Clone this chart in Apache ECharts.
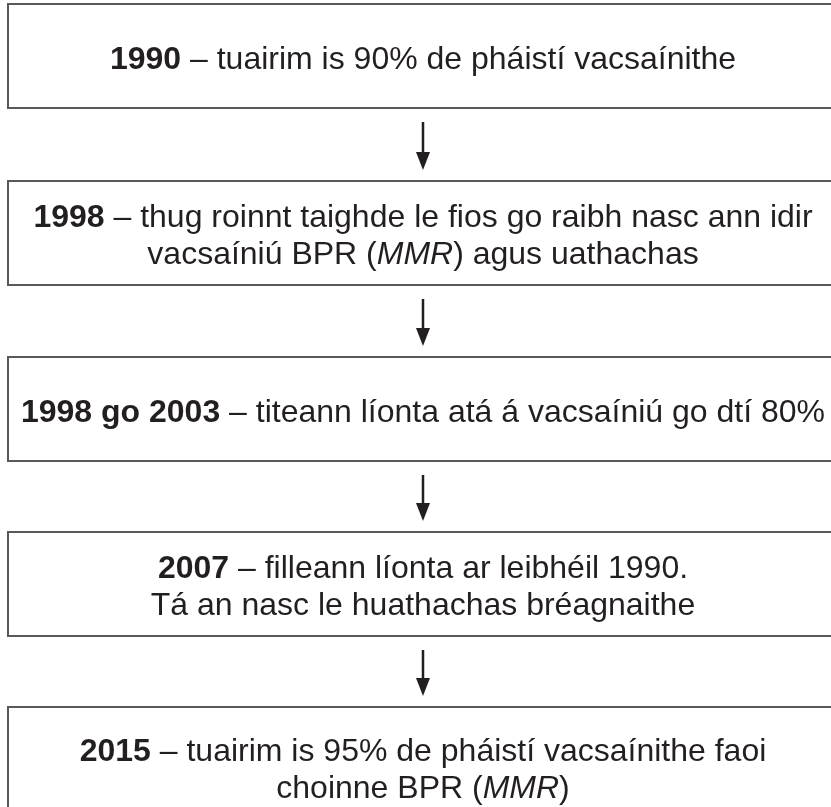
<!DOCTYPE html>
<html>
<head>
<meta charset="utf-8">
<script src="https://cdn.jsdelivr.net/npm/echarts@6/dist/echarts.min.js"></script>
<style>html,body{margin:0;padding:0;background:#fff}#c{width:831px;height:807px}</style>
</head>
<body>
<div id="c"></div>
<script>
// Flow-chart content
const years = ['1990', '1998', '1998 go 2003', '2007', '2015'];
const texts = [
  ' – tuairim is 90% de pháistí vacsaínithe',
  ' – thug roinnt taighde le fios go raibh nasc ann idir\nvacsaíniú BPR ({i|MMR}) agus uathachas',
  ' – titeann líonta atá á vacsaíniú go dtí 80%',
  ' – filleann líonta ar leibhéil 1990.\nTá an nasc le huathachas bréagnaithe',
  ' – tuairim is 95% de pháistí vacsaínithe faoi\nchoinne BPR ({i|MMR})'
];

const chart = echarts.init(document.getElementById('c'), null, {renderer: 'canvas'});
const FONT = '"Liberation Sans", Arial, sans-serif';
const FS = 32, LH = 37;
const boxTop = [4, 181, 357, 532, 707];
const boxHs = [104, 104, 104, 104, 120];
const left = 8, cx = 423;
const color = '#231f20';
const graphic = [];
years.forEach((y, i) => {
  const top = boxTop[i];
  const boxH = boxHs[i];
  graphic.push({
    type: 'rect',
    shape: {x: left, y: top, width: 840, height: boxH},
    style: {fill: '#fff', stroke: '#58595b', lineWidth: 2}
  });
  const t = texts[i];
  const lines = t.split('\n');
  const conv = l => l.replace(/\{i\|([^}]*)\}/g, '}{i|$1}{n|');
  const full = lines.map((l, k) => (k === 0 ? '{b|' + y + '}{n|' + conv(l) + '}' : '{n|' + conv(l) + '}')).join('\n');
  graphic.push({
    type: 'text',
    x: cx, y: top + boxH / 2 + 4,
    style: {
      text: full,
      align: 'center', verticalAlign: 'middle',
      fontFamily: FONT, fontSize: FS, fill: color, lineHeight: LH,
      rich: {
        b: {fontWeight: 'bold', fontFamily: FONT, fontSize: FS, fill: color, lineHeight: LH},
        n: {fontFamily: FONT, fontSize: FS, fill: color, lineHeight: LH},
        i: {fontStyle: 'italic', fontFamily: FONT, fontSize: FS, fill: color, lineHeight: LH}
      }
    }
  });
  if (i < years.length - 1) {
    const y0 = top + boxH + 14;
    const y1 = boxTop[i + 1] - 11;
    graphic.push({
      type: 'line',
      shape: {x1: cx, y1: y0, x2: cx, y2: y1 - 14},
      style: {stroke: color, lineWidth: 2.5}
    });
    graphic.push({
      type: 'polygon',
      shape: {points: [[cx - 7, y1 - 18], [cx + 7, y1 - 18], [cx, y1]]},
      style: {fill: color}
    });
  }
});
chart.setOption({backgroundColor: '#fff', animation: false, graphic: graphic});
</script>
</body>
</html>
